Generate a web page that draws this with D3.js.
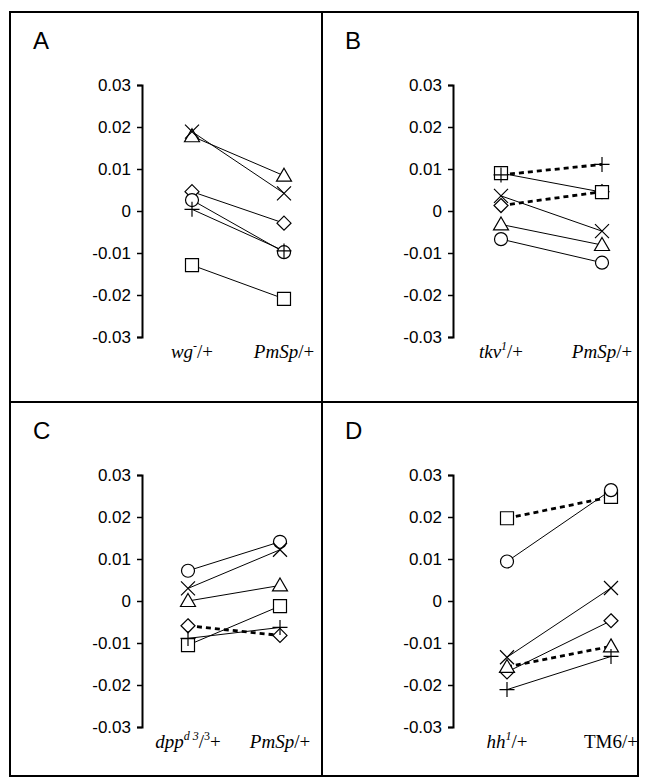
<!DOCTYPE html>
<html>
<head>
<meta charset="utf-8">
<script src="https://cdn.jsdelivr.net/npm/d3@7"></script>
<style>
  body { margin: 0; background: #fff; }
  svg { display: block; }
</style>
</head>
<body>
<div id="chart"></div>
<script>
// values, left genotype then right genotype
const yTicks = [0.03, 0.02, 0.01, 0, -0.01, -0.02, -0.03];
const yTickLabels = ["0.03", "0.02", "0.01", "0", "-0.01", "-0.02", "-0.03"];
const panelLetters = ["A", "B", "C", "D"];

const seriesA = [
  {sym: "cross",    dash: false, v: [0.0189, 0.0042]},
  {sym: "triangle", dash: false, v: [0.0178, 0.0084]},
  {sym: "diamond",  dash: false, v: [0.0046, -0.0029]},
  {sym: "circle",   dash: false, v: [0.0026, -0.0098]},
  {sym: "plus",     dash: false, v: [0.0004, -0.0095]},
  {sym: "square",   dash: false, v: [-0.0129, -0.0209]}
];
const seriesB = [
  {sym: "plus",     dash: true,  v: [0.0086, 0.0111]},
  {sym: "square",   dash: false, v: [0.0090, 0.0045]},
  {sym: "cross",    dash: false, v: [0.0036, -0.0048]},
  {sym: "diamond",  dash: true,  v: [0.0013, 0.0046]},
  {sym: "triangle", dash: false, v: [-0.0032, -0.0081]},
  {sym: "circle",   dash: false, v: [-0.0067, -0.0123]}
];
const seriesC = [
  {sym: "circle",   dash: false, v: [0.0072, 0.0141]},
  {sym: "cross",    dash: false, v: [0.0030, 0.0122]},
  {sym: "triangle", dash: false, v: [0.0000, 0.0037]},
  {sym: "square",   dash: false, v: [-0.0105, -0.0012]},
  {sym: "diamond",  dash: true,  v: [-0.0059, -0.0082]},
  {sym: "plus",     dash: false, v: [-0.0089, -0.0063]}
];
const seriesD = [
  {sym: "square",   dash: true,  v: [0.0197, 0.0248]},
  {sym: "circle",   dash: false, v: [0.0094, 0.0264]},
  {sym: "cross",    dash: false, v: [-0.0134, 0.0031]},
  {sym: "diamond",  dash: false, v: [-0.0169, -0.0047]},
  {sym: "triangle", dash: true,  v: [-0.0157, -0.0108]},
  {sym: "plus",     dash: false, v: [-0.0211, -0.0132]}
];

// x labels: pieces of [text, italic, superscript]
const labelsA = [[["wg", 1, 0], ["-", 0, 1], ["/+", 0, 0]], [["PmSp", 1, 0], ["/+", 0, 0]]];
const labelsB = [[["tkv", 1, 0], ["1", 1, 1], ["/+", 0, 0]], [["PmSp", 1, 0], ["/+", 0, 0]]];
const labelsC = [[["dpp", 1, 0], ["d 3", 1, 1], ["/", 0, 0], ["3", 0, 1], ["+", 0, 0]], [["PmSp", 1, 0], ["/+", 0, 0]]];
const labelsD = [[["hh", 1, 0], ["1", 1, 1], ["/+", 0, 0]], [["TM6/+", 0, 0]]];

const width = 648, height = 778;
const svg = d3.select("#chart").append("svg")
    .attr("width", width)
    .attr("height", height);

// panel boxes
const box = {left: 10, top: 12, right: 638, bottom: 776, midX: 322, midY: 402};
const panels = [
  {series: seriesA, labels: labelsA, x0: box.left, y0: box.top,  axisX: 132, xr: [50, 142]},
  {series: seriesB, labels: labelsB, x0: box.midX, y0: box.top,  axisX: 131, xr: [48, 149]},
  {series: seriesC, labels: labelsC, x0: box.left, y0: box.midY, axisX: 132, xr: [46, 138]},
  {series: seriesD, labels: labelsD, x0: box.midX, y0: box.midY, axisX: 131, xr: [54, 158]}
];

svg.append("rect")
    .attr("x", box.left).attr("y", box.top)
    .attr("width", box.right - box.left).attr("height", box.bottom - box.top)
    .attr("fill", "none").attr("stroke", "#000").attr("stroke-width", 2);
svg.append("line")
    .attr("x1", box.midX).attr("x2", box.midX)
    .attr("y1", box.top).attr("y2", box.bottom)
    .attr("stroke", "#000").attr("stroke-width", 2);
svg.append("line")
    .attr("x1", box.left).attr("x2", box.right)
    .attr("y1", box.midY).attr("y2", box.midY)
    .attr("stroke", "#000").attr("stroke-width", 2);

// marker outlines
function markerPath(sym) {
  const p = d3.path();
  if (sym === "square") {
    p.rect(-6.5, -6.5, 13, 13);
  } else if (sym === "circle") {
    p.arc(0, 0, 6.5, 0, 2 * Math.PI);
  } else if (sym === "triangle") {
    p.moveTo(0, -7.5); p.lineTo(7.5, 5.5); p.lineTo(-7.5, 5.5); p.closePath();
  } else if (sym === "diamond") {
    p.moveTo(0, -7); p.lineTo(7, 0); p.lineTo(0, 7); p.lineTo(-7, 0); p.closePath();
  } else if (sym === "cross") {
    p.moveTo(-7, -7); p.lineTo(7, 7); p.moveTo(7, -7); p.lineTo(-7, 7);
  } else {
    p.moveTo(-7.5, 0); p.lineTo(7.5, 0); p.moveTo(0, -7.5); p.lineTo(0, 7.5);
  }
  return p.toString();
}
const drawOrder = ["diamond", "square", "circle", "triangle", "cross", "plus"];

panels.forEach((pn, i) => {
  const g = svg.append("g").attr("transform", `translate(${pn.x0},${pn.y0})`);
  const axisX = pn.axisX;

  g.append("text")
      .attr("x", 23).attr("y", 37)
      .attr("font-family", "Liberation Sans, Arial, sans-serif")
      .attr("font-size", 24)
      .text(panelLetters[i]);

  const y = d3.scaleLinear().domain([-0.03, 0.03]).range([325, 73]);
  const x = d3.scaleLinear().domain([0, 1]).range([axisX + pn.xr[0], axisX + pn.xr[1]]);

  const ax = g.append("g")
      .attr("transform", `translate(${axisX},0)`)
      .call(d3.axisLeft(y).tickValues(yTicks)
        .tickFormat((d, k) => yTickLabels[k])
        .tickSize(5).tickSizeOuter(5).tickPadding(6));
  ax.select(".domain").attr("stroke-width", 2);
  ax.selectAll(".tick line").attr("stroke-width", 1.5);
  ax.selectAll(".tick text")
      .attr("font-family", "Liberation Sans, Arial, sans-serif")
      .attr("font-size", 17)
      .attr("fill", "#000");

  // connecting lines
  g.selectAll("line.pair")
    .data(pn.series)
    .enter().append("line")
      .attr("class", "pair")
      .attr("x1", x(0)).attr("x2", x(1))
      .attr("y1", d => y(d.v[0])).attr("y2", d => y(d.v[1]))
      .attr("stroke", "#000")
      .attr("stroke-width", d => d.dash ? 2.8 : 1)
      .attr("stroke-dasharray", d => d.dash ? "5,4" : null);

  // markers
  const pts = [];
  drawOrder.forEach(sym => {
    pn.series.filter(s => s.sym === sym).forEach(s => {
      pts.push({sym: sym, side: 0, val: s.v[0]});
      pts.push({sym: sym, side: 1, val: s.v[1]});
    });
  });
  g.selectAll("path.mark")
    .data(pts)
    .enter().append("path")
      .attr("class", "mark")
      .attr("transform", d => `translate(${x(d.side)},${y(d.val)})`)
      .attr("d", d => markerPath(d.sym))
      .attr("fill", d => (d.sym === "cross" || d.sym === "plus") ? "none" : "#fff")
      .attr("stroke", "#000")
      .attr("stroke-width", 1.2);

  // genotype labels
  pn.labels.forEach((lab, k) => {
    const t = g.append("text")
        .attr("x", x(k)).attr("y", 346)
        .attr("text-anchor", "middle")
        .attr("font-family", "Liberation Serif, Times New Roman, serif")
        .attr("font-size", 19);
    let raised = false;
    lab.forEach(piece => {
      const sup = !!piece[2];
      let dy = 0;
      if (sup && !raised) dy = -8;
      if (!sup && raised) dy = 8;
      raised = sup;
      t.append("tspan")
        .attr("font-style", piece[1] ? "italic" : "normal")
        .attr("font-size", sup ? 12 : 19)
        .attr("dy", dy)
        .text(piece[0]);
    });
  });
});
</script>
</body>
</html>
